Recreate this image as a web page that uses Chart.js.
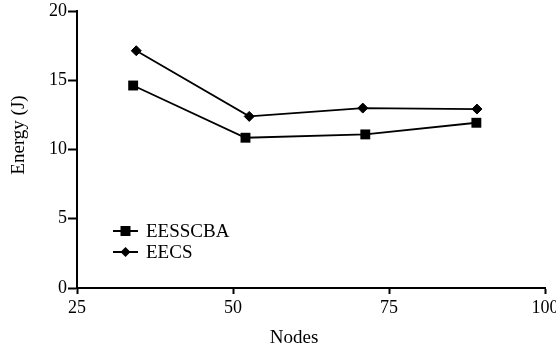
<!DOCTYPE html>
<html>
<head>
<meta charset="utf-8">
<script src="https://cdn.jsdelivr.net/npm/chart.js@4.4.1/dist/chart.umd.min.js"></script>
<style>
  body { margin: 0; background: #fff; }
  #wrap { width: 556px; height: 352px; }
</style>
</head>
<body>
<div id="wrap"><canvas id="energyChart" width="556" height="352"></canvas></div>
<script>
// values
const seriesNames = ['EESSCBA', 'EECS'];
const eesscbaNodes = [34, 52, 71.2, 89];
const eesscbaEnergy = [14.62, 10.85, 11.09, 11.93];
const eecsNodes = [34.5, 52.6, 70.8, 89.1];
const eecsEnergy = [17.13, 12.39, 12.99, 12.92];
const xTicks = [25, 50, 75, 100];
const yTicks = [0, 5, 10, 15, 20];

const FONT = "'Liberation Serif', 'Times New Roman', serif";

function toPoints(xs, ys) {
    return xs.map((x, i) => ({ x: x, y: ys[i] }));
}

// axis titles + legend drawn by hand so they sit where the original has them
const decorPlugin = {
    id: 'decor',
    afterDraw(chart) {
        const ctx = chart.ctx;
        ctx.save();
        ctx.fillStyle = '#000';
        ctx.font = '19px ' + FONT;
        ctx.textAlign = 'center';
        ctx.textBaseline = 'middle';
        ctx.fillText('Nodes', 294, 338);
        ctx.translate(19, 135);
        ctx.rotate(-Math.PI / 2);
        ctx.fillText('Energy (J)', 0, 0);
        ctx.restore();

        // legend
        const rows = [231, 252];
        chart.data.datasets.forEach((ds, i) => {
            const y = rows[i];
            ctx.save();
            ctx.strokeStyle = '#000';
            ctx.fillStyle = '#000';
            ctx.lineWidth = 2;
            ctx.beginPath();
            ctx.moveTo(113, y);
            ctx.lineTo(138, y);
            ctx.stroke();
            ctx.beginPath();
            if (ds.pointStyle === 'rect') {
                ctx.rect(120.5, y - 5, 10, 10);
            } else {
                ctx.moveTo(125.5 - 5, y);
                ctx.lineTo(125.5, y - 5);
                ctx.lineTo(125.5 + 5, y);
                ctx.lineTo(125.5, y + 5);
                ctx.closePath();
            }
            ctx.fill();
            ctx.font = '19px ' + FONT;
            ctx.textAlign = 'left';
            ctx.textBaseline = 'middle';
            ctx.fillText(ds.label, 146, y + 1);
            ctx.restore();
        });
    }
};

new Chart(document.getElementById('energyChart').getContext('2d'), {
    type: 'line',
    data: {
        datasets: [{
            label: seriesNames[0],
            data: toPoints(eesscbaNodes, eesscbaEnergy),
            borderColor: '#000',
            backgroundColor: '#000',
            borderWidth: 1.8,
            pointStyle: 'rect',
            pointRadius: 7,
            pointBorderWidth: 0,
            tension: 0
        }, {
            label: seriesNames[1],
            data: toPoints(eecsNodes, eecsEnergy),
            borderColor: '#000',
            backgroundColor: '#000',
            borderWidth: 1.8,
            pointStyle: 'rectRot',
            pointRadius: 5,
            pointBorderWidth: 1,
            tension: 0
        }]
    },
    options: {
        responsive: false,
        animation: false,
        layout: { padding: { top: 11, right: 11, left: 0, bottom: 0 } },
        plugins: {
            legend: { display: false },
            tooltip: { enabled: false }
        },
        scales: {
            x: {
                type: 'linear',
                min: xTicks[0],
                max: xTicks[xTicks.length - 1],
                afterBuildTicks: s => { s.ticks = xTicks.map(v => ({ value: v })); },
                afterFit: s => { s.height = 64; s.paddingLeft = 0; s.paddingRight = 0; },
                border: { color: '#000', width: 2 },
                grid: { drawOnChartArea: false, color: '#000', tickLength: 6, tickWidth: 2 },
                ticks: { color: '#000', font: { family: FONT, size: 18 }, padding: 3, maxRotation: 0 }
            },
            y: {
                min: yTicks[0],
                max: yTicks[yTicks.length - 1],
                afterBuildTicks: s => { s.ticks = yTicks.map(v => ({ value: v })); },
                afterFit: s => { s.width = 77; s.paddingTop = 0; s.paddingBottom = 0; },
                border: { color: '#000', width: 2 },
                grid: { drawOnChartArea: false, color: '#000', tickLength: 9, tickWidth: 2 },
                ticks: { color: '#000', font: { family: FONT, size: 18 }, padding: 1 }
            }
        }
    },
    plugins: [decorPlugin]
});
</script>
</body>
</html>
